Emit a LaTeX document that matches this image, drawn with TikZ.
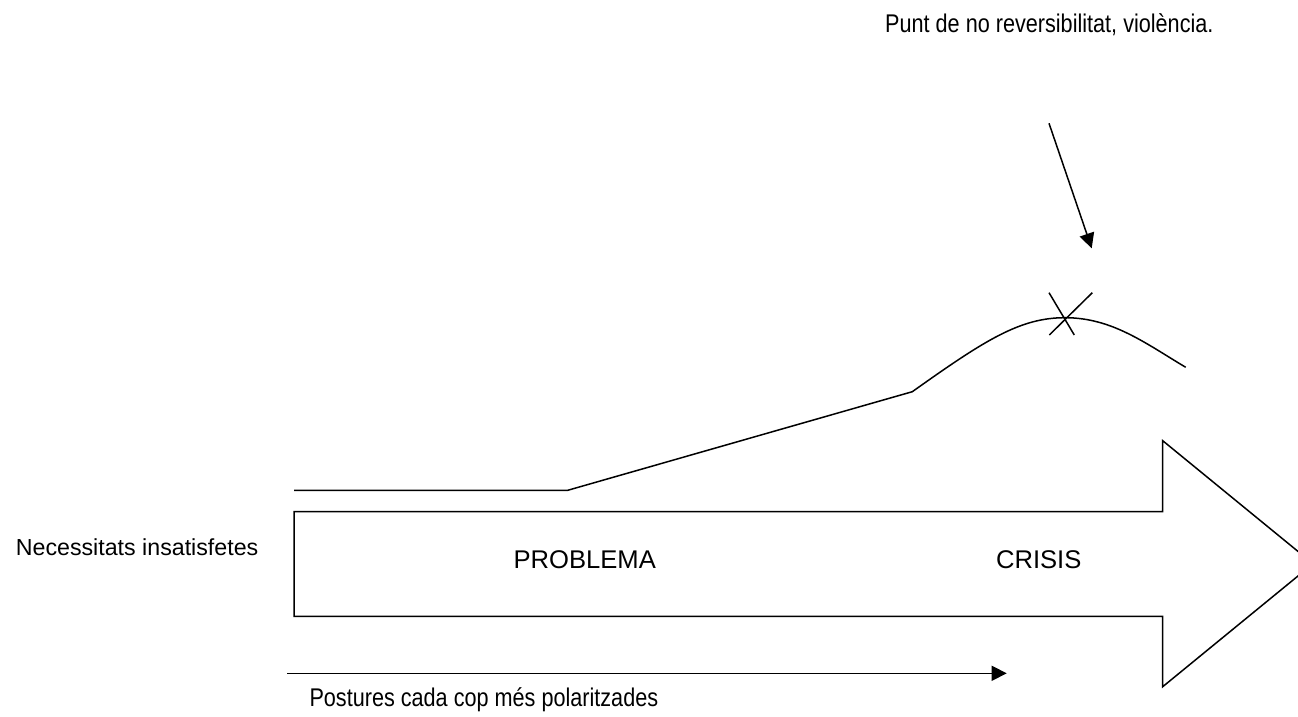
\documentclass[tikz,border=0pt]{standalone}
\usepackage{fontspec}
\setmainfont{Liberation Sans}
\usepackage{graphicx}
\usetikzlibrary{arrows.meta}
\tikzset{
  line/.style={line width=1.5pt, line join=miter},
  tri/.style={-{Triangle[length=15pt,width=15pt]}, line width=1.5pt},
  lbl/.style={inner sep=0pt, font=\fontsize{25.6}{30}\selectfont},
  slbl/.style={inner sep=0pt, font=\fontsize{23.2}{28}\selectfont},
}
\newcommand{\cond}[1]{\scalebox{0.845}[1]{#1}}
\begin{document}
\begin{tikzpicture}[x=1pt,y=-1pt]
\useasboundingbox (0,0) rectangle (1298,717);
\clip (0,0) rectangle (1298,717);
% big arrow
\draw[line] (294,511.7) -- (1162.7,511.7) -- (1162.7,440.7) -- (1313,563.7)
  -- (1162.7,686.7) -- (1162.7,616.3) -- (294,616.3) -- cycle;
\node[lbl, anchor=base] (prob) at (584.7,568.3) {PROBLEMA};
\node[lbl, anchor=base] (cris) at (1038.7,568.3) {CRISIS};
\node[slbl, anchor=base west] (nec) at (15.7,555) {Necessitats insatisfetes};
% escalation curve
\coordinate (c0) at (294,490.3);
\coordinate (c1) at (567.7,490.3);
\coordinate (c2) at (912.3,391.7);
\coordinate (peak) at (1065,317.7);
\coordinate (c4) at (1185.7,367.3);
\draw[line] (c0) -- (c1) -- (c2) .. controls (985,340) and (1020,317.7) .. (peak)
  .. controls (1112,317.7) and (1145,343) .. (c4);
% cross at peak
\coordinate (x1) at (1049,292.7);
\coordinate (x2) at (1074.3,335);
\coordinate (x3) at (1049.3,335);
\coordinate (x4) at (1092.3,292.7);
\draw[line] (x1) -- (x2);
\draw[line] (x3) -- (x4);
% pointer arrow
\node[lbl, anchor=base west] (punt) at (885,32.7) {\cond{Punt de no reversibilitat, violència.}};
\coordinate (a0) at (1049,123.3);
\coordinate (a1) at (1091.7,248.3);
\draw[tri] (a0) -- (a1);
% bottom arrow
\coordinate (b0) at (287.3,673.3);
\coordinate (b1) at (1006.7,673.3);
\draw[tri] (b0) -- (b1);
\node[lbl, anchor=base west] (post) at (309.3,706.7) {\cond{Postures cada cop més polaritzades}};
\end{tikzpicture}
\end{document}
